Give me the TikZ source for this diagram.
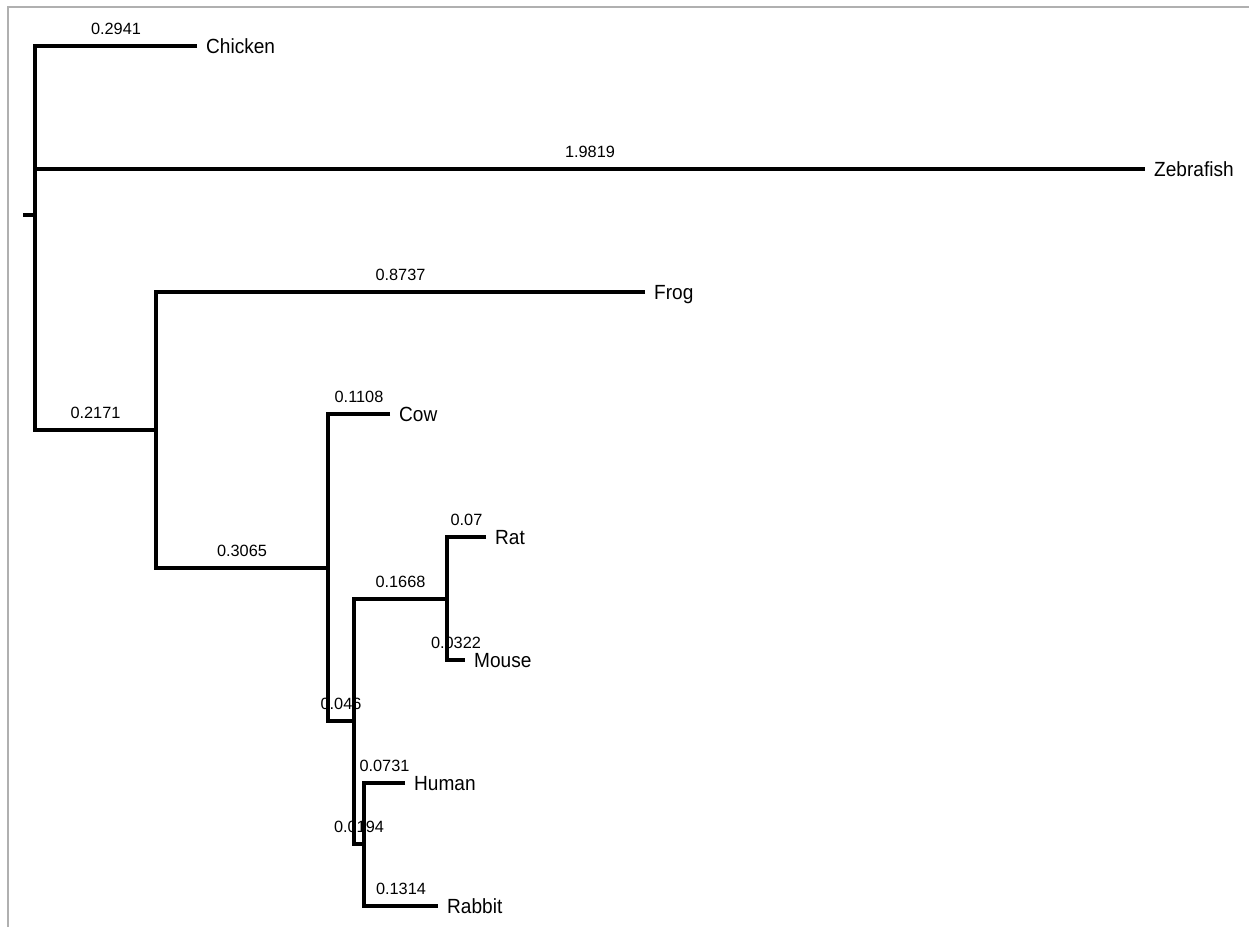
\documentclass[tikz,border=0pt]{standalone}
\usepackage{fontspec}
\setmainfont{Liberation Sans}
\newfontfamily\leaffont{Liberation Sans}[FakeStretch=0.93]
\definecolor{framegray}{HTML}{B0B0B0}
\begin{document}
\begin{tikzpicture}[x=1pt,y=-1pt,
  branch/.style={line width=3.2pt, black},
  leaf/.style={anchor=west, inner sep=0pt, text height=14.6pt, text depth=0pt, font=\leaffont\fontsize{20.5}{24}\selectfont, xshift=9pt},
  blen/.style={anchor=base, inner sep=0pt, font=\fontsize{16.3}{19}\selectfont}]
\useasboundingbox (0,0) rectangle (1249,927);
\draw[framegray, line width=2pt] (8,927) -- (8,7) -- (1249,7);
% internal nodes
\coordinate (rstub) at (23,215);
\coordinate (R) at (35,215);
\coordinate (A) at (156,430);
\coordinate (B) at (328,568);
\coordinate (C) at (354,721);
\coordinate (D) at (447,599);
\coordinate (E) at (364,844);
% tips
\coordinate (chickentip) at (197,46);
\coordinate (zebratip) at (1145,169);
\coordinate (frogtip) at (645,292);
\coordinate (cowtip) at (390,414);
\coordinate (rattip) at (486,537);
\coordinate (mousetip) at (465,660);
\coordinate (humantip) at (405,783);
\coordinate (rabbittip) at (438,906);
% leaf labels
\node[leaf] (lchicken) at (chickentip) {Chicken};
\node[leaf] (lzebra) at (zebratip) {Zebrafish};
\node[leaf] (lfrog) at (frogtip) {Frog};
\node[leaf] (lcow) at (cowtip) {Cow};
\node[leaf] (lrat) at (rattip) {Rat};
\node[leaf] (lmouse) at (mousetip) {Mouse};
\node[leaf] (lhuman) at (humantip) {Human};
\node[leaf] (lrabbit) at (rabbittip) {Rabbit};
% branches
\draw[branch] (rstub) -- (R);
\draw[branch] (chickentip) -| (R) |- (A);
\draw[branch] (R |- zebratip) -- (zebratip);
\draw[branch] (frogtip) -| (A) |- (B);
\draw[branch] (cowtip) -| (B) |- (C);
\draw[branch] (D) -| (C) |- (E);
\draw[branch] (rattip) -| (D) |- (mousetip);
\draw[branch] (humantip) -| (E) |- (rabbittip);
% branch lengths
\node[blen] (b1) at (116,34.5) {0.2941};
\node[blen] (b2) at (590,157.5) {1.9819};
\node[blen] (b3) at (95.5,418.5) {0.2171};
\node[blen] (b4) at (400.5,280.5) {0.8737};
\node[blen] (b5) at (242,556.5) {0.3065};
\node[blen] (b6) at (359,402.5) {0.1108};
\node[blen] (b7) at (341,709.5) {0.046};
\node[blen] (b8) at (400.5,587.5) {0.1668};
\node[blen] (b9) at (466.5,525.5) {0.07};
\node[blen] (b10) at (456,648.5) {0.0322};
\node[blen] (b11) at (359,832.5) {0.0194};
\node[blen] (b12) at (384.5,771.5) {0.0731};
\node[blen] (b13) at (401,894.5) {0.1314};
\end{tikzpicture}
\end{document}
